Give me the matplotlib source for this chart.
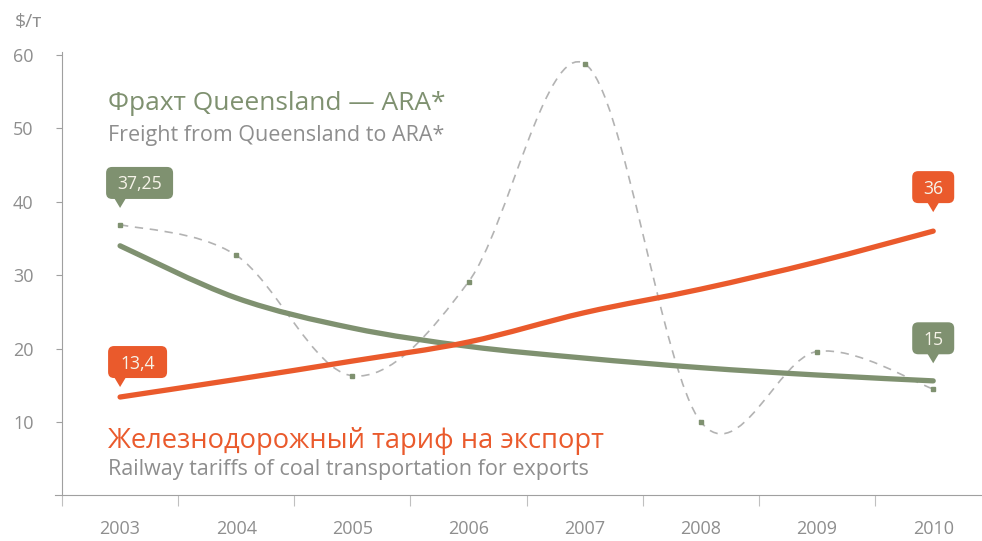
import numpy as np
import matplotlib.pyplot as plt
from matplotlib.path import Path
from matplotlib.patches import PathPatch, FancyBboxPatch, Polygon
from matplotlib.transforms import Affine2D, ScaledTranslation

years = [2003, 2004, 2005, 2006, 2007, 2008, 2009, 2010]
freight = [36.9, 32.7, 16.3, 29.1, 58.8, 10.0, 19.6, 14.5]          # dashed, actual
freight_trend = [34.0, 26.9, 22.8, 20.3, 18.7, 17.4, 16.4, 15.6]    # green trend
railway = [13.4, 15.8, 18.3, 20.9, 24.9, 28.1, 31.8, 36.0]         # orange

callout_text = ['37,25', '13,4', '36', '15']
callout_year = [2003, 2003, 2010, 2010]
callout_val = [37.25, 13.4, 36.0, 15.0]

GREEN = '#7f9170'
ORANGE = '#ea5a2c'
GRAY = '#8e8e8e'
DASH = '#b3b3b3'
AXIS = '#a0a0a0'

plt.rcParams['font.family'] = ['Open Sans', 'DejaVu Sans']


def smooth_path(xs, ys):
    # catmull-rom through the points, as cubic bezier segments
    verts = [(xs[0], ys[0])]
    codes = [Path.MOVETO]
    n = len(xs)
    for i in range(n - 1):
        x0, y0 = (xs[i - 1], ys[i - 1]) if i > 0 else (xs[i], ys[i])
        x3, y3 = (xs[i + 2], ys[i + 2]) if i + 2 < n else (xs[i + 1], ys[i + 1])
        c1 = (xs[i] + (xs[i + 1] - x0) / 6, ys[i] + (ys[i + 1] - y0) / 6)
        c2 = (xs[i + 1] - (x3 - xs[i]) / 6, ys[i + 1] - (y3 - ys[i]) / 6)
        verts += [c1, c2, (xs[i + 1], ys[i + 1])]
        codes += [Path.CURVE4] * 3
    return Path(verts, codes)


fig = plt.figure(figsize=(9.82, 5.41), dpi=100)
ax = fig.add_axes([62 / 982, (541 - 495.4) / 541, 1 - 62 / 982, (495.4 - 52) / 541])
ax.set_xlim(2002.5, 2010.42)
ax.set_ylim(0, 60.4)

ax.add_patch(PathPatch(smooth_path(years, freight), fill=False, edgecolor=DASH,
                       lw=1.2, linestyle=(0, (5, 4)), zorder=1))
ax.plot(years, freight, 's', color=GREEN, markersize=3.5, zorder=2)
ax.add_patch(PathPatch(smooth_path(years, freight_trend), fill=False, edgecolor=GREEN,
                       lw=3.8, capstyle='round', zorder=3))
ax.add_patch(PathPatch(smooth_path(years, railway), fill=False, edgecolor=ORANGE,
                       lw=3.8, capstyle='round', zorder=4))

# axes look
for s in ['top', 'right', 'bottom']:
    ax.spines[s].set_visible(False)
ax.spines['left'].set_color(AXIS)
ax.spines['left'].set_linewidth(0.8)
ax.axhline(0, xmin=-0.008, xmax=1, color=AXIS, lw=0.8, clip_on=False)

ax.set_yticks([10, 20, 30, 40, 50, 60])
ax.tick_params(axis='y', length=4, width=0.8, color=AXIS, pad=16.5, labelsize=13, labelcolor=GRAY)
ax.set_xticks(years)
ax.set_xticks(np.arange(2002.5, 2010.5, 1), minor=True)
ax.tick_params(axis='x', which='major', length=0, pad=18, labelsize=13, labelcolor=GRAY)
ax.tick_params(axis='x', which='minor', length=8, width=0.8, color='#c0c0c0')

fig.text(15 / 982, 1 - 22 / 541, '$/т', fontsize=14, color=GRAY, va='center', ha='left')

# series titles
fig.text(108 / 982, 1 - 103 / 541, 'Фрахт Queensland — ARA*', fontsize=19, color=GREEN, va='center')
fig.text(108 / 982, 1 - 135 / 541, 'Freight from Queensland to ARA*', fontsize=15.5, color=GRAY, va='center')
fig.text(108 / 982, 1 - 441 / 541, 'Железнодорожный тариф на экспорт', fontsize=19.6, color=ORANGE, va='center')
fig.text(108 / 982, 1 - 470 / 541, 'Railway tariffs of coal transportation for exports', fontsize=15.5,
         color=GRAY, va='center')

# callouts, sizes in pixels relative to the anchored value
box_left = [-14, -12, -21, -21]
box_w = [67, 59, 42, 42]
tip_gap = [14, 10, 19, 22]
box_col = [GREEN, ORANGE, ORANGE, GREEN]
BOX_H, TRI_H, TRI_W = 32, 9, 6
for txt, yr, v, bl, bw, gap, col in zip(callout_text, callout_year, callout_val,
                                         box_left, box_w, tip_gap, box_col):
    tr = Affine2D() + ScaledTranslation(yr, v, ax.transData)
    base = gap + TRI_H
    ax.add_patch(Polygon([(-TRI_W, base + 1), (TRI_W, base + 1), (0, gap)], closed=True,
                         fc=col, ec='none', transform=tr, clip_on=False, zorder=5))
    ax.add_patch(FancyBboxPatch((bl, base), bw, BOX_H, boxstyle='round,pad=0,rounding_size=6',
                                fc=col, ec='none', transform=tr, clip_on=False, zorder=5))
    ax.text(bl + bw / 2, base + 9.5, txt, transform=tr, ha='center', va='baseline',
            fontsize=12.7, color='#f6f3e8', zorder=6)

fig.savefig('out.png', dpi=100)
